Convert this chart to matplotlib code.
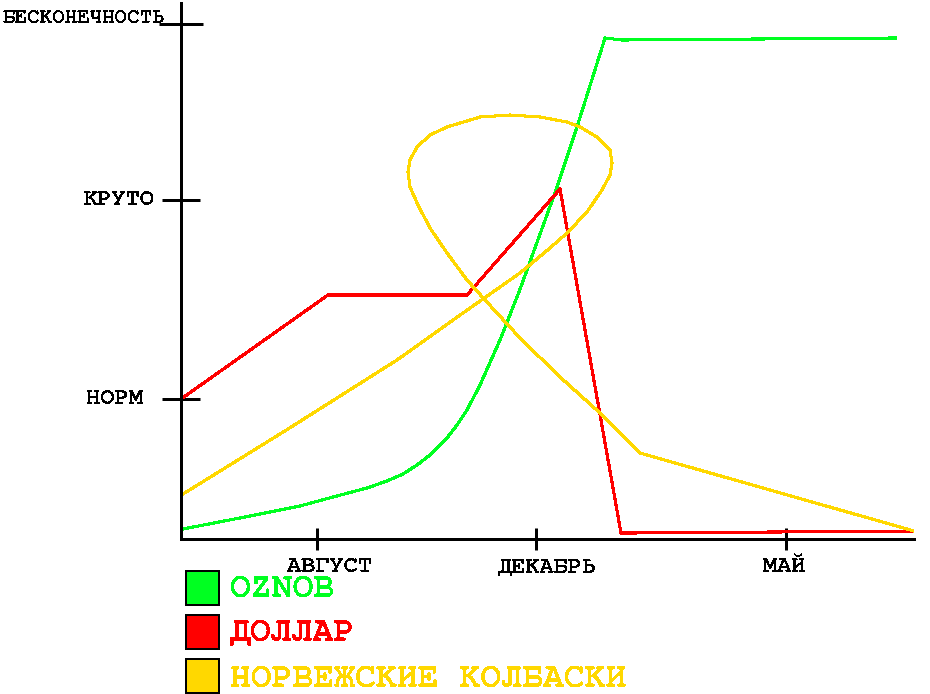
import matplotlib
matplotlib.use("Agg")
import matplotlib.pyplot as plt
from matplotlib.patches import Rectangle

plt.rcParams['font.family'] = ['FreeMono', 'Courier Prime', 'DejaVu Sans Mono']
plt.rcParams['text.antialiased'] = False

# ---- data (arbitrary chart units) ----
series_names = ["OZNOB", "ДОЛЛАР", "НОРВЕЖСКИЕ КОЛБАСКИ"]
series_colors = ["#00FF21", "#FF0000", "#FFD800"]

oznob_x = [2, 69, 119, 152, 186, 206, 222, 236, 249, 266, 276, 286, 299, 319, 338,
           375, 396, 424, 441, 714]
oznob_y = [10, 23, 33, 42, 51, 58, 65, 74, 84, 101, 114, 129, 154, 199, 247,
           349, 412, 501, 499, 501]

dollar_x = [0, 147, 286, 379, 440, 449, 594, 733]
dollar_y = [140, 244, 244, 350, 6, 6, 7, 8]

kolbaski_x = [2, 107, 216, 282, 339, 369, 386, 406, 421, 429, 431, 429,
              416, 399, 386, 359, 329, 299, 266, 249, 236, 229, 227, 229, 237, 249, 266,
              286, 304, 339, 379, 419, 459, 733]
kolbaski_y = [45, 110, 179, 226, 266, 291, 306, 327, 349, 364, 376, 389,
              402, 412, 417, 422, 424, 422, 412, 404, 392, 379, 367, 352, 334, 311, 286,
              259, 239, 201, 162, 126, 86, 8]

x_tick_pos = [136, 355, 605]
x_tick_labels = ["АВГУСТ", "ДЕКАБРЬ", "МАЙ"]
y_tick_pos = [140, 339]
y_tick_labels = ["НОРМ", "КРУТО"]
y_top_pos = 515
y_top_label = "БЕСКОНЕЧНОСТЬ"

# ---- figure ----
W, H = 930, 694
fig = plt.figure(figsize=(W / 100, H / 100), dpi=100)
px = 72 / 100  # points per pixel

ax = fig.add_axes([181 / W, 155 / H, 733 / W, 536 / H])
ax.set_xlim(0, 733)
ax.set_ylim(0, 536)

for sx, sy, c in [(oznob_x, oznob_y, series_colors[0]),
                  (dollar_x, dollar_y, series_colors[1]),
                  (kolbaski_x, kolbaski_y, series_colors[2])]:
    ax.plot(sx, sy, color=c, lw=2.1 * px, antialiased=False, solid_joinstyle='round')

for s in ['top', 'right']:
    ax.spines[s].set_visible(False)
for s in ['left', 'bottom']:
    ax.spines[s].set_linewidth(3 * px)
    ax.spines[s].set_antialiased(False)

ax.set_xticks(x_tick_pos)
ax.set_xticklabels([])
ax.set_yticks(y_tick_pos)
ax.set_yticklabels([])
ax.set_yticks([y_top_pos], minor=True)
ax.tick_params(axis='x', which='major', direction='inout', length=23 * px, width=3 * px)
ax.tick_params(axis='y', which='major', direction='inout', length=38 * px, width=3 * px)
ax.tick_params(axis='y', which='minor', direction='inout', length=44 * px, width=3 * px)
ax.tick_params(axis='x', which='minor', bottom=False)

# x labels
x_offsets = [12.5, 11, -2]
for xp, lab, off in zip(x_tick_pos, x_tick_labels, x_offsets):
    ax.annotate(lab, xy=(xp, 0), xycoords=('data', 'axes fraction'),
                xytext=(off * px, -28 * px), textcoords='offset points',
                ha='center', va='center', fontsize=17, fontweight='bold')

# y labels
y_offsets = [-38, -26]
for yp, lab, off in zip(y_tick_pos, y_tick_labels, y_offsets):
    ax.annotate(lab, xy=(0, yp), xycoords=('axes fraction', 'data'),
                xytext=(off * px, 0), textcoords='offset points',
                ha='right', va='center', fontsize=17, fontweight='bold')
ax.annotate(y_top_label, xy=(0, y_top_pos), xycoords=('axes fraction', 'data'),
            xytext=(-16 * px, 6 * px), textcoords='offset points',
            ha='right', va='center', fontsize=15, fontweight='bold')

# legend (manual)
sq_tops = [571, 615, 659]
base_lines = [597, 641, 688]
for name, col, top, bl in zip(series_names, series_colors, sq_tops, base_lines):
    fig.add_artist(Rectangle((186 / W, 1 - (top + 34) / H), 33 / W, 34 / H,
                             transform=fig.transFigure, facecolor=col,
                             edgecolor='black', linewidth=2 * px, antialiased=False))
    fig.text(230 / W, 1 - bl / H, name, color=col, fontsize=25,
             fontweight='bold', ha='left', va='baseline')

fig.savefig("out.png", dpi=100)
